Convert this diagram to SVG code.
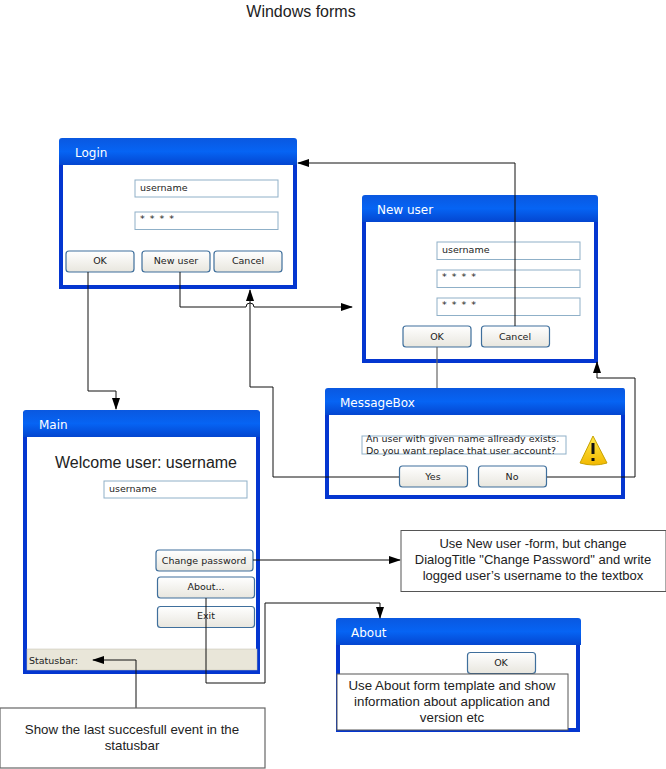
<svg xmlns="http://www.w3.org/2000/svg" width="666" height="769" viewBox="0 0 666 769">
<defs>
<linearGradient id="title" x1="0" y1="0" x2="0" y2="1"><stop offset="0" stop-color="#0a58e0"/><stop offset="0.5" stop-color="#0664f4"/><stop offset="1" stop-color="#0446d0"/></linearGradient>
<linearGradient id="btn" x1="0" y1="0" x2="0" y2="1"><stop offset="0" stop-color="#ffffff"/><stop offset="1" stop-color="#e8e6de"/></linearGradient>
<linearGradient id="warn" x1="0" y1="0" x2="0" y2="1"><stop offset="0" stop-color="#ffe94a"/><stop offset="1" stop-color="#f2b800"/></linearGradient>
<marker id="arr" viewBox="0 0 12 10" refX="11" refY="5" markerWidth="12" markerHeight="10" markerUnits="userSpaceOnUse" orient="auto"><path d="M0 1 L12 5 L0 9 Z" fill="#000"/></marker>
</defs>
<style>
text{font-family:"Liberation Sans",Arial,sans-serif;fill:#222}
.frame{fill:#fff;stroke:#0436d0;stroke-width:4}
.bar{fill:url(#title)}
.ttl{font-family:"DejaVu Sans",Verdana,sans-serif;font-size:12px;fill:#fff}
.tb{fill:#fff;stroke:#8fb0c8;stroke-width:1}
.b{fill:url(#btn);stroke:#3f6f9c;stroke-width:1.2}
.bt{font-family:"DejaVu Sans",Verdana,sans-serif;font-size:9.500px;text-anchor:middle}
.tt{font-family:"DejaVu Sans",Verdana,sans-serif;font-size:9.500px}
.note{fill:#fff;stroke:#555;stroke-width:1}
.nt{font-size:13.300px;text-anchor:middle;fill:#222}
.c{fill:none;stroke:#111;stroke-width:1}
.g{fill:none;stroke:#666;stroke-width:1.200}
</style>
<text x="301" y="17" font-size="16" text-anchor="middle">Windows forms</text>

<g id="login">
<rect class="frame" x="61" y="145" width="234" height="142"/>
<path class="bar" d="M59 141 Q59 138 62 138 L294 138 Q297 138 297 141 L297 165 L59 165 Z"/>
<text class="ttl" x="75" y="157">Login</text>
<rect class="tb" x="135" y="180" width="143" height="17"/>
<text class="tt" x="140" y="191">username</text>
<rect class="tb" x="135" y="212" width="143" height="17.500"/>
<text class="tt" x="140" y="222" letter-spacing="1">* * * *</text>
<rect class="b" x="66" y="251" width="68" height="21" rx="3"/><text class="bt" x="100" y="264">OK</text>
<rect class="b" x="142" y="251" width="68" height="21" rx="3"/><text class="bt" x="176" y="264">New user</text>
<rect class="b" x="214" y="251" width="68" height="21" rx="3"/><text class="bt" x="248" y="264">Cancel</text>
</g>

<g id="newuser">
<rect class="frame" x="364" y="201" width="232" height="160"/>
<path class="bar" d="M362 198 Q362 195 365 195 L595 195 Q598 195 598 198 L598 222 L362 222 Z"/>
<text class="ttl" x="377" y="214">New user</text>
<rect class="tb" x="437" y="242" width="143" height="17.500"/><text class="tt" x="442" y="253">username</text>
<rect class="tb" x="437" y="270" width="143" height="17.500"/><text class="tt" x="442" y="280" letter-spacing="1">* * * *</text>
<rect class="tb" x="437" y="298" width="143" height="17.500"/><text class="tt" x="442" y="308" letter-spacing="1">* * * *</text>
<rect class="b" x="403" y="326" width="68" height="21" rx="3"/><text class="bt" x="437" y="340">OK</text>
<rect class="b" x="481.500" y="326" width="68" height="21" rx="3"/><text class="bt" x="515" y="340">Cancel</text>
</g>

<g id="messagebox">
<rect class="frame" x="327" y="395" width="296" height="102"/>
<path class="bar" d="M325 391 Q325 388 328 388 L623 388 Q625 388 625 391 L625 415 L325 415 Z"/>
<text class="ttl" x="340" y="407">MessageBox</text>
<rect class="tb" x="362" y="436" width="204" height="18"/>
<text class="tt" x="366" y="442">An user with given name allready exists.</text>
<text class="tt" x="366" y="454">Do you want replace that user account?</text>
<path d="M593 436 L580 463 Q594 467 607 463 Z" fill="url(#warn)" stroke="#c8a200" stroke-width="1"/>
<path d="M593 443 L593 454 M593 458 L593 461" stroke="#111" stroke-width="3"/>
<rect class="b" x="399.500" y="466" width="68" height="21" rx="3"/><text class="bt" x="433" y="480">Yes</text>
<rect class="b" x="478.500" y="466" width="68" height="21" rx="3"/><text class="bt" x="512" y="480">No</text>
</g>

<g id="main">
<rect class="frame" x="25" y="414" width="233" height="258"/>
<path class="bar" d="M23 413 Q23 410 26 410 L257 410 Q260 410 260 413 L260 437 L23 437 Z"/>
<text class="ttl" x="39" y="429">Main</text>
<text x="146" y="468" font-size="16" text-anchor="middle">Welcome user: username</text>
<rect class="tb" x="104" y="481" width="143" height="17"/>
<text class="tt" x="109" y="492">username</text>
<rect class="b" x="156" y="550" width="97" height="21" rx="3"/><text class="bt" x="204" y="564">Change password</text>
<rect class="b" x="157.500" y="577" width="97" height="21" rx="3"/><text class="bt" x="206" y="590">About...</text>
<rect class="b" x="157.500" y="606.500" width="97" height="21" rx="3"/><text class="bt" x="206" y="619">Exit</text>
<rect x="27" y="649" width="230" height="21" fill="#e9e6d9" stroke="#c4c0b0" stroke-width="0.500"/>
<text class="tt" x="29" y="664">Statusbar:</text>
</g>

<g id="about">
<rect class="frame" x="338" y="622" width="240" height="108"/>
<path class="bar" d="M336 621 Q336 618 339 618 L578 618 Q581 618 581 621 L581 645 L336 645 Z"/>
<text class="ttl" x="351" y="637">About</text>
<rect class="b" x="467.500" y="652.500" width="68" height="21" rx="3"/><text class="bt" x="501" y="666">OK</text>
</g>

<g id="connectors">
<path class="c" d="M88 272 V391 H116 V409" marker-end="url(#arr)"/>
<path class="c" d="M180 272 V307 H246 A4 4 0 0 1 254 307 H352" marker-end="url(#arr)"/>
<path class="c" d="M515 326 V163 H298" marker-end="url(#arr)"/>
<path class="g" d="M437 347 V388"/>
<path class="c" d="M399 477 H273 V387 H250 V290" marker-end="url(#arr)"/>
<path class="c" d="M547 477 H635 V378 H597 V362" marker-end="url(#arr)"/>
<path class="c" d="M253 560 H400" marker-end="url(#arr)"/>
<path class="c" d="M206 598 V683 H265 V603 H380 V618" marker-end="url(#arr)"/>
<path class="c" d="M136 708 V660 H93" marker-end="url(#arr)"/>
</g>

<g id="note-password">
<rect class="note" x="401" y="530.500" width="265" height="61"/>
<text class="nt" x="533" y="548" style="font-size:13px">Use New user -form, but change</text>
<text class="nt" x="533" y="564" style="font-size:13px">DialogTitle "Change Password" and write</text>
<text class="nt" x="533" y="580" style="font-size:13px">logged user’s username to the textbox</text>
</g>
<g id="note-about">
<rect class="note" x="337" y="674" width="231" height="56"/>
<text class="nt" x="452" y="690">Use About form template and show</text>
<text class="nt" x="452" y="706">information about application and</text>
<text class="nt" x="452" y="722">version etc</text>
</g>
<g id="note-statusbar">
<rect class="note" x="0" y="708" width="265" height="60" style="stroke:#666;stroke-width:1.200"/>
<text class="nt" x="132" y="734">Show the last succesfull event in the</text>
<text class="nt" x="132" y="750">statusbar</text>
</g>
</svg>
